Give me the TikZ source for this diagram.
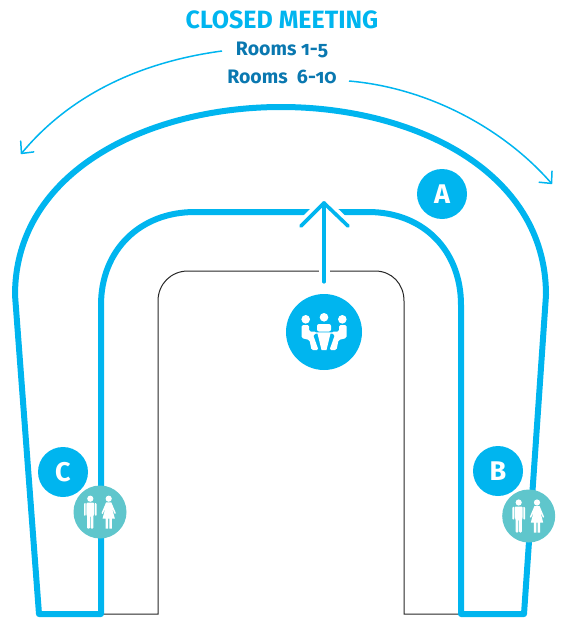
\documentclass[tikz,border=0pt]{standalone}
\usepackage{fontspec}
\setmainfont[Numbers=OldStyle]{Fira Sans}
\usetikzlibrary{arrows.meta}
\definecolor{roomblue}{HTML}{00B5EF}
\definecolor{textblue}{HTML}{0A78B0}
\definecolor{wcteal}{HTML}{5FC6CC}
\tikzset{
  man/.pic={
    \fill[white] (0,0) circle (3.1);
    \fill[white, rounded corners=1pt] (-4,4) -- (4,4) -- (4,16) -- (3.1,16) -- (3.1,30) -- (0.4,30) -- (0.4,17) -- (-0.4,17) -- (-0.4,30) -- (-3.1,30) -- (-3.1,16) -- (-4,16) -- cycle;
    \fill[white, rounded corners=0.6pt] (-6.3,5) -- (-4.7,4) -- (-4.7,17) -- (-6.3,17) -- cycle;
    \fill[white, rounded corners=0.6pt] (6.3,5) -- (4.7,4) -- (4.7,17) -- (6.3,17) -- cycle;
  },
  woman/.pic={
    \fill[white] (0,0) circle (3.1);
    \fill[white] (-2.6,3.6) -- (2.6,3.6) -- (7.2,14.5) -- (6,15.2) -- (3.2,9) -- (6.2,20) -- (3.1,20) -- (3.1,30) -- (0.7,30) -- (0.7,20) -- (-0.7,20) -- (-0.7,30) -- (-3.1,30) -- (-3.1,20) -- (-6.2,20) -- (-3.2,9) -- (-6,15.2) -- (-7.2,14.5) -- cycle;
  },
  meeting/.pic={
    \fill[white] (-18.3,-12.7) circle (4.3);
    \fill[white] (0,-14.7) circle (4.3);
    \fill[white] (18.3,-12.7) circle (4.3);
    % people at the table
    \fill[white, rounded corners=1.5pt] (-22.5,-7) -- (-15,-7) -- (-15,-0.5) -- (-8,-0.5) -- (-8,2.5) -- (-11,2.5) -- (-5.5,18) -- (-12.5,18) -- (-14.5,8) -- (-22.5,6) -- cycle;
    \fill[white, rounded corners=1.5pt] (22.5,-7) -- (15,-7) -- (15,-0.5) -- (8,-0.5) -- (8,2.5) -- (11,2.5) -- (5.5,18) -- (12.5,18) -- (14.5,8) -- (22.5,6) -- cycle;
    \fill[white, rounded corners=2pt] (-7,-0.5) -- (-7,-8) -- (7,-8) -- (7,-0.5) -- cycle;
    \fill[white] (-15,0.3) -- (15,0.3) -- (15,1.5) -- (6.5,1.5) -- (2.5,18) -- (-2.5,18) -- (-6.5,1.5) -- (-15,1.5) -- cycle;
  }
}
\begin{document}
\begin{tikzpicture}[x=1pt,y=-1pt]

\tikzstyle{wall}=[draw=roomblue, line width=6pt, line join=round]
\tikzstyle{room}=[shape=circle, fill=roomblue, text=white, inner sep=0pt,
    minimum size=50pt, font=\fontsize{27}{27}\selectfont\bfseries]
\tikzstyle{wc}=[shape=circle, fill=wcteal, inner sep=0pt, minimum size=53pt]
\tikzstyle{rooms}=[text=textblue, inner sep=0pt, font=\fontsize{19.5}{22}\selectfont\bfseries]
\tikzstyle{sweep}=[draw=roomblue, line width=1.5pt, -{Straight Barb[length=9pt,width=17pt,round]}]

  \useasboundingbox (0,0) rectangle (565,618);

  % building
  \draw[black!85, line width=1pt] (101,614) -- (158,614) -- (158,301) .. controls (158,284) and (171,271) .. (188,271)
    -- (375,271) .. controls (392,271) and (404,284) .. (404,301) -- (404,614) -- (461,614);
  \draw[wall] (101,614) -- (101,305) .. controls (101,250) and (140,212) .. (195,212)
    -- (368,212) .. controls (423,212) and (461,250) .. (461,305) -- (461,614)
    -- (524,614) -- (546,295) .. controls (546,170) and (412,107) .. (281,107)
    .. controls (150,107) and (15,170) .. (15,295) -- (39,614) -- cycle;

  % rooms
  \node[room] (roomA) at (442,194) {A};
  \node[room] (roomB) at (498,471) {B};
  \node[room] (roomC) at (63,472) {C};
  \node[wc] (wcB) at (528.7,516) {};
  \node[wc] (wcC) at (100,512) {};
  \pic at (518.7,502.5) {man};
  \pic at (537,502.5) {woman};
  \pic at (90.3,498.7) {man};
  \pic at (108.7,498.7) {woman};

  % meeting
  \node[shape=circle, fill=roomblue, inner sep=0pt, minimum size=76pt] (table) at (324,332) {};
  \pic at (324,332) {meeting};
  \coordinate (tip) at (324,203);
  \coordinate (tipL) at (301,226);
  \coordinate (tipR) at (348,226);
  \coordinate (foot) at ([yshift=12pt]table.north);
  \draw[white, line width=11pt] (324,275) -- (tip);
  \draw[white, line width=11pt] (tipL) -- (tip) -- (tipR);
  \draw[roomblue, line width=3.6pt, line cap=round, line join=round] (tipL) -- (tip) -- (tipR);
  \draw[roomblue, line width=3.6pt, line cap=round] (foot) -- (tip);

  % labels
  \node[text=roomblue, inner sep=0pt, font=\fontsize{25}{28}\selectfont\bfseries] (title) at (282,20) {CLOSED MEETING};
  \node[rooms] (rooms1) at (282,49.5) {Rooms 1-5};
  \node[rooms] (rooms2) at (282,77) {Rooms~~6-10};
  \coordinate (startL) at (222,51);
  \coordinate (startR) at (349,81);
  \coordinate (endL) at (21,154);
  \coordinate (endR) at (552,184);
  \draw[sweep] (startL) .. controls (140,62) and (70,95) .. (endL);
  \draw[sweep] (startR) .. controls (430,88) and (505,130) .. (endR);

\end{tikzpicture}
\end{document}
